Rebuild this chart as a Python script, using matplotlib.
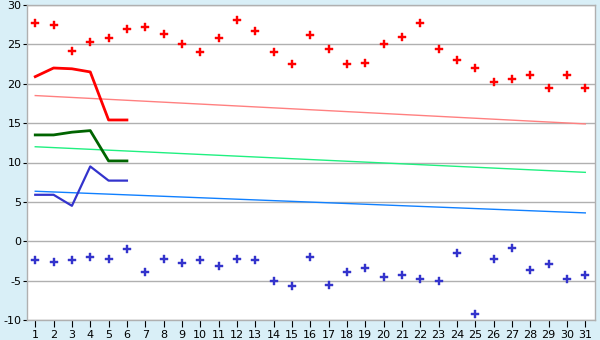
import matplotlib
matplotlib.use("Agg")
import matplotlib.pyplot as plt

days = list(range(1, 32))
rec_max = [27.7, 27.5, 24.1, 25.3, 25.8, 26.9, 27.2, 26.3, 25.0, 24.0,
           25.8, 28.1, 26.7, 24.0, 22.5, 26.2, 24.4, 22.5, 22.6, 25.0,
           26.0, 27.7, 24.4, 23.0, 22.0, 20.2, 20.6, 21.1, 19.5, 21.1, 19.4]
rec_min = [-2.4, -2.6, -2.4, -2.0, -2.3, -1.0, -3.9, -2.3, -2.8, -2.4,
           -3.1, -2.2, -2.4, -5.0, -5.7, -2.0, -5.6, -3.9, -3.4, -4.5,
           -4.3, -4.8, -5.1, -1.5, -9.2, -2.3, -0.8, -3.6, -2.9, -4.8, -4.3]
obs_days = [1, 2, 3, 4, 5, 6]
obs_max = [20.9, 22.0, 21.9, 21.5, 15.4, 15.4]
obs_mean = [13.5, 13.5, 13.85, 14.05, 10.2, 10.2]
obs_min = [5.9, 5.9, 4.5, 9.5, 7.7, 7.7]
norm_days = [1, 31]
norm_max = [18.5, 14.9]
norm_mean = [12.0, 8.75]
norm_min = [6.35, 3.6]
y_ticks = list(range(-10, 31, 5))

fig = plt.figure(figsize=(6, 3.4), dpi=100, facecolor="#d9eff7")
ax = fig.add_axes([27/600, 20/340, 568/600, 315/340])
ax.set_facecolor("white")

ax.plot(norm_days, norm_max, color="#ff8080", lw=1.0)
ax.plot(norm_days, norm_mean, color="#20f080", lw=1.0)
ax.plot(norm_days, norm_min, color="#1080ff", lw=1.0)
ax.plot(obs_days, obs_max, color="#ff0000", lw=2.0)
ax.plot(obs_days, obs_mean, color="#006400", lw=2.0)
ax.plot(obs_days, obs_min, color="#3333cc", lw=1.6)
ax.plot(days, rec_max, ls="none", marker="P", ms=5.2, color="#ff0000",
        mec="#ff0000", mew=0.3)
ax.plot(days, rec_min, ls="none", marker="P", ms=5.2, color="#3333cc",
        mec="#3333cc", mew=0.3)

ax.set_xlim(0.55, 31.53)
ax.set_ylim(-10, 30)
ax.set_xticks(days)
ax.set_yticks(y_ticks)
ax.set_yticklabels([str(v) for v in y_ticks])
ax.grid(axis="y", color="#b0b0b0", lw=1.0)
ax.set_axisbelow(True)
for s in ax.spines.values():
    s.set_color("#b0b0b0")
    s.set_linewidth(1.0)
ax.tick_params(axis="x", length=5, color="black", labelsize=8, pad=2)
ax.tick_params(axis="y", length=3, color="black", labelsize=8, pad=1)

fig.savefig("out.png", dpi=100, facecolor=fig.get_facecolor())
